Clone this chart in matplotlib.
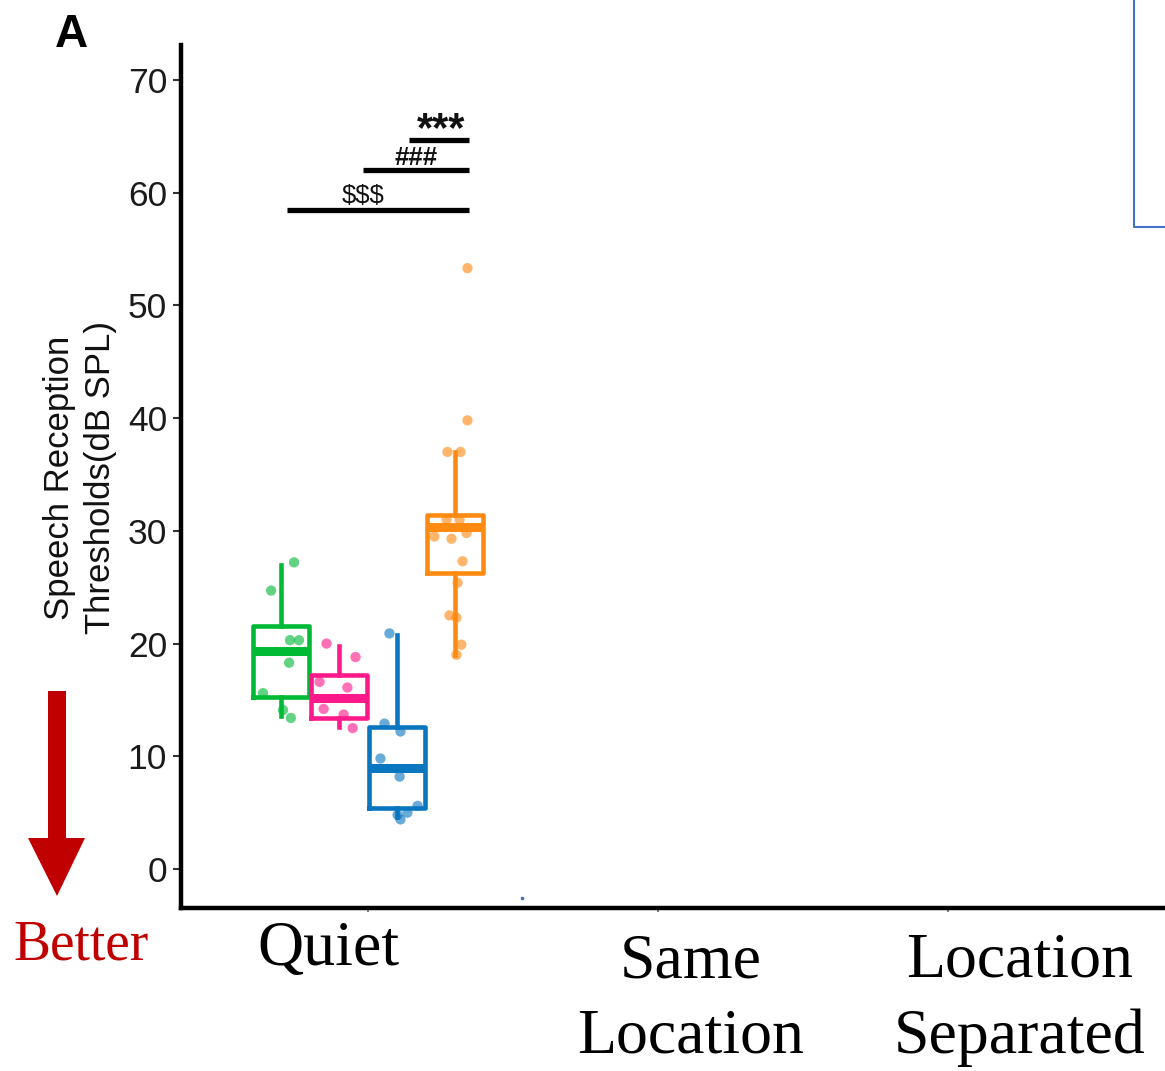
import matplotlib
matplotlib.use("Agg")
import matplotlib.pyplot as plt
import numpy as np

# ---- data: speech reception thresholds (dB SPL), Quiet condition ----
conditions = ["Quiet", "Same\nLocation", "Location\nSeparated"]
groups = ["G1", "G2", "G3", "G4"]
group_colors = ["#00B935", "#FF1A8C", "#0B76C0", "#FF8A12"]
group_offsets = [-0.3, -0.1, 0.1, 0.3]

# box summaries: (whislo, q1, median, q3, whishi)
box_stats = [
    (13.6, 15.3, 19.3, 21.6, 27.0),
    (12.6, 13.4, 15.2, 17.2, 19.8),
    (4.6, 5.4, 9.0, 12.6, 20.8),
    (19.0, 26.3, 30.3, 31.4, 37.0),
]

pts_g1 = [27.2, 24.7, 20.3, 20.3, 18.3, 15.6, 14.1, 13.4]
pts_g2 = [20.0, 18.8, 16.6, 16.1, 14.2, 13.7, 12.5]
pts_g3 = [20.9, 12.9, 12.2, 9.8, 8.2, 5.6, 5.0, 4.8, 4.4]
pts_g4 = [53.3, 39.8, 37.0, 37.0, 31.0, 31.0, 29.5, 29.3, 29.8,
          27.3, 25.4, 22.5, 22.3, 19.9, 19.0]
points = [pts_g1, pts_g2, pts_g3, pts_g4]

# horizontal jitter of each point around its group centre
jit_g1 = [0.045, -0.034, 0.031, 0.062, 0.028, -0.062, 0.007, 0.034]
jit_g2 = [-0.043, 0.057, -0.067, 0.029, -0.053, 0.016, 0.047]
jit_g3 = [-0.026, -0.043, 0.012, -0.057, 0.009, 0.071, 0.036, 0.002, 0.012]
jit_g4 = [0.043, 0.043, -0.026, 0.019, -0.029, 0.016, -0.071, -0.012, 0.040,
          0.026, 0.009, -0.019, 0.005, 0.022, 0.005]
jitters = [jit_g1, jit_g2, jit_g3, jit_g4]

# significance brackets: x start, x end, y, label
sig_x0 = [0.141, -0.017, -0.279]
sig_x1 = [0.348, 0.348, 0.348]
sig_y = [64.7, 62.0, 58.5]
sig_labels = ["***", "###", "$$$"]
# label placement: x centre, y shift from the bar, font size, bold
sig_label_x = [0.252, 0.167, -0.016]
sig_label_dy = [-0.1, 0.47, 0.6]
sig_label_size = [30, 18.5, 18.5]
sig_label_bold = [True, True, False]

W, H = 1165, 1071
fig = plt.figure(figsize=(W / 100, H / 100), dpi=100)
fig.patch.set_facecolor("white")

ax_left, ax_right = 181, 1185
ax_top, ax_bot = 45, 908
ax = fig.add_axes([ax_left / W, 1 - ax_bot / H,
                   (ax_right - ax_left) / W, (ax_bot - ax_top) / H])

px_per_unit = 290.0
x0 = 1 - (368 - ax_left) / px_per_unit
ax.set_xlim(x0, x0 + (ax_right - ax_left) / px_per_unit)
ax.set_ylim(-3.46, 73.1)

# boxplots via bxp
for k, (st, col, off) in enumerate(zip(box_stats, group_colors, group_offsets)):
    lo, q1, med, q3, hi = st
    stats = [dict(whislo=lo, q1=q1, med=med, q3=q3, whishi=hi, fliers=[])]
    ax.bxp(stats, positions=[1 + off], widths=0.19, showcaps=False,
           patch_artist=False,
           boxprops=dict(color=col, linewidth=3.3),
           whiskerprops=dict(color=col, linewidth=3.3),
           medianprops=dict(color=col, linewidth=6.5, solid_capstyle="butt"),
           manage_ticks=False)
    xs = 1 + off + np.array(jitters[k])
    ax.scatter(xs, points[k], s=55, color=col, alpha=0.62,
               edgecolors="none", zorder=4)

for i, lab in enumerate(sig_labels):
    ax.plot([1 + sig_x0[i], 1 + sig_x1[i]], [sig_y[i], sig_y[i]],
            color="black", lw=3.8, solid_capstyle="butt")
    ax.text(1 + sig_label_x[i], sig_y[i] + sig_label_dy[i], lab,
            ha="center", va="baseline", fontsize=sig_label_size[i],
            fontweight="bold" if sig_label_bold[i] else "normal",
            family="Liberation Sans", color="#111111")

for s in ["top", "right"]:
    ax.spines[s].set_visible(False)
for s in ["left", "bottom"]:
    ax.spines[s].set_linewidth(3.2)
    ax.spines[s].set_color("black")

ax.set_yticks(np.arange(0, 71, 10))
ax.tick_params(axis="y", labelsize=25.5, length=6, width=1.5, color="#333333",
               labelcolor="#1a1a1a", pad=4)
for t in ax.get_yticklabels():
    t.set_family("Liberation Sans")
ax.set_xticks([1, 2, 3])
ax.set_xticklabels([])
ax.tick_params(axis="x", length=3, width=1.2, color="#666666")

# overlay in pixel space for annotations outside the axes
deco = fig.add_axes([0, 0, 1, 1])
deco.set_xlim(0, W)
deco.set_ylim(H, 0)
deco.axis("off")
deco.patch.set_alpha(0)

deco.text(55, 47, "A", fontsize=33, fontweight="bold", family="Liberation Sans",
          ha="left", va="baseline")
deco.text(80, 478, "Speech Reception\nThresholds(dB SPL)", rotation=90,
          ha="center", va="center", fontsize=25, family="Liberation Sans",
          linespacing=1.3, color="#111111")

serif = "Liberation Serif"
deco.text(328, 950, conditions[0], ha="center", va="center", fontsize=46,
          family=serif)
deco.text(691, 1000, conditions[1], ha="center", va="center", fontsize=46,
          family=serif, linespacing=1.4)
deco.text(1020, 1000, conditions[2], ha="center", va="center", fontsize=46,
          family=serif, linespacing=1.4)

red = "#C00000"
deco.fill([48, 66, 66, 85, 57, 28, 48], [691, 691, 838, 838, 896, 838, 838],
          color=red, lw=0)
deco.text(81, 945, "Better", ha="center", va="center", fontsize=40,
          family=serif, color=red)

deco.plot([1134, 1134, 1170], [-5, 227, 227], color="#4472C4", lw=1.5)
deco.plot([522], [898], marker="s", ms=1.5, color="#4472C4")

fig.savefig("out.png", dpi=100)
